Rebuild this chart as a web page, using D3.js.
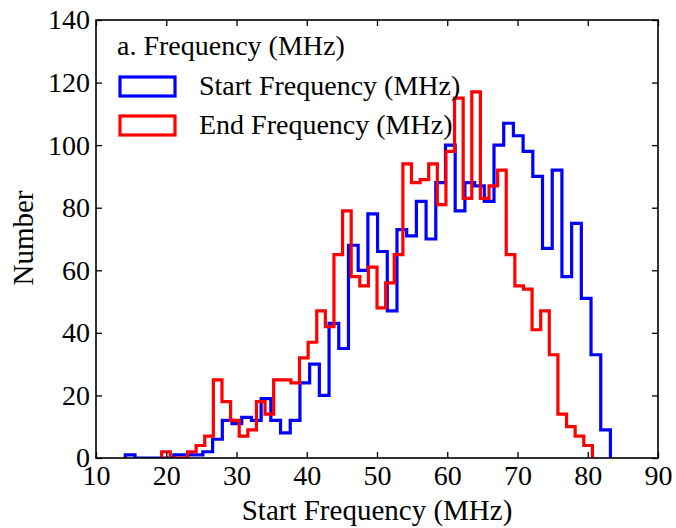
<!DOCTYPE html>
<html>
<head>
<meta charset="utf-8">
<script src="https://cdn.jsdelivr.net/npm/d3@7"></script>
<style>
  body { margin: 0; background: #fff; }
  svg text { font-family: "Liberation Serif", "Times New Roman", serif; fill: #000; }
</style>
</head>
<body>
<svg id="chart" width="676" height="528"></svg>
<script>
// counts per bin (50 bins each)
const startFreqCounts = [1, 0, 0, 0, 0, 1, 1, 1, 2, 6,
  12, 11, 13, 12, 19, 12, 8, 12, 24, 30,
  20, 43, 35, 68, 60, 78, 66, 47, 73, 71,
  82, 70, 88, 100, 79, 88, 87, 82, 100, 107,
  103, 98, 90, 67, 92, 58, 75, 51, 33, 9]
const endFreqCounts = [2, 0, 0, 2, 4, 7, 25, 18, 12, 7,
  9, 18, 14, 25, 25, 24, 32, 37, 47, 42,
  65, 79, 58, 55, 61, 48, 56, 65, 94, 88,
  89, 94, 81, 98, 115, 83, 117, 83, 87, 92,
  65, 55, 54, 41, 47, 33, 14, 10, 7, 4]
// histogram ranges (min, max of the data)
const startFreqRange = [14.17, 83.23]
const endFreqRange = [19.35, 80.66]
const xTicks = [10, 20, 30, 40, 50, 60, 70, 80, 90]
const yTicks = [0, 20, 40, 60, 80, 100, 120, 140]
const seriesNames = ['Start Frequency (MHz)', 'End Frequency (MHz)']
const seriesColors = ['#0000ff', '#ff0000']

const plotLeft = 96, plotRight = 658, plotTop = 20, plotBottom = 458

const x = d3.scaleLinear().domain([10, 90]).range([plotLeft, plotRight])
const y = d3.scaleLinear().domain([0, 140]).range([plotBottom, plotTop])

const svg = d3.select('#chart')

// turn counts into a step outline like matplotlib histtype='step'
const stepPoints = (counts, range) => {
  const w = (range[1] - range[0]) / counts.length
  const pts = [[range[0], 0]]
  counts.forEach((c, i) => {
    pts.push([range[0] + i * w, c])
    pts.push([range[0] + (i + 1) * w, c])
  })
  pts.push([range[1], 0])
  return pts
}

const line = d3.line().x(d => x(d[0])).y(d => y(d[1]))

svg.append('clipPath').attr('id', 'plot-clip')
  .append('rect')
  .attr('x', plotLeft).attr('y', plotTop)
  .attr('width', plotRight - plotLeft).attr('height', plotBottom - plotTop)

const series = [
  stepPoints(startFreqCounts, startFreqRange),
  stepPoints(endFreqCounts, endFreqRange)
]

svg.append('g')
  .attr('clip-path', 'url(#plot-clip)')
  .selectAll('path')
  .data(series)
  .enter()
  .append('path')
  .attr('d', line)
  .attr('fill', 'none')
  .attr('stroke', (d, i) => seriesColors[i])
  .attr('stroke-width', 3.2)
  .attr('stroke-linejoin', 'miter')

// axes, ticks point inward on all four sides
const tickLen = 6
const styleAxis = g => {
  g.select('.domain').remove()
  g.selectAll('.tick line').attr('stroke', '#000').attr('stroke-width', 1.3)
  g.selectAll('.tick text').style('font-size', '28px')
}

svg.append('g')
  .attr('transform', `translate(0,${plotBottom})`)
  .call(d3.axisBottom(x).tickValues(xTicks).tickSizeInner(-tickLen).tickSizeOuter(0).tickPadding(7).tickFormat(d3.format('d')))
  .call(styleAxis)

svg.append('g')
  .attr('transform', `translate(0,${plotTop})`)
  .call(d3.axisTop(x).tickValues(xTicks).tickSizeInner(-tickLen).tickSizeOuter(0).tickFormat(''))
  .call(styleAxis)

svg.append('g')
  .attr('transform', `translate(${plotLeft},0)`)
  .call(d3.axisLeft(y).tickValues(yTicks).tickSizeInner(-tickLen).tickSizeOuter(0).tickPadding(6).tickFormat(d3.format('d')))
  .call(styleAxis)

svg.append('g')
  .attr('transform', `translate(${plotRight},0)`)
  .call(d3.axisRight(y).tickValues(yTicks).tickSizeInner(-tickLen).tickSizeOuter(0).tickFormat(''))
  .call(styleAxis)

svg.append('rect')
  .attr('x', plotLeft).attr('y', plotTop)
  .attr('width', plotRight - plotLeft).attr('height', plotBottom - plotTop)
  .attr('fill', 'none')
  .attr('stroke', '#000')
  .attr('stroke-width', 1.6)

// axis labels
svg.append('text')
  .attr('x', (plotLeft + plotRight) / 2)
  .attr('y', 520)
  .attr('text-anchor', 'middle')
  .style('font-size', '29px')
  .text('Start Frequency (MHz)')

svg.append('text')
  .attr('transform', 'translate(33,238) rotate(-90)')
  .attr('text-anchor', 'middle')
  .style('font-size', '29px')
  .text('Number')

// legend (no frame)
svg.append('text')
  .attr('x', 117)
  .attr('y', 55)
  .style('font-size', '28px')
  .text('a. Frequency (MHz)')

const legend = svg.selectAll('.legend-item')
  .data(seriesNames)
  .enter()
  .append('g')
  .attr('class', 'legend-item')
  .attr('transform', (d, i) => `translate(0,${i * 39})`)

legend.append('rect')
  .attr('x', 120)
  .attr('y', 77)
  .attr('width', 55)
  .attr('height', 19)
  .attr('fill', 'none')
  .attr('stroke', (d, i) => seriesColors[i])
  .attr('stroke-width', 3.2)

legend.append('text')
  .attr('x', 199)
  .attr('y', 95)
  .style('font-size', '28px')
  .text(d => d)
</script>
</body>
</html>
